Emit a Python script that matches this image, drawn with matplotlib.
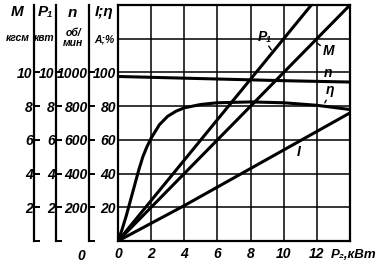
import numpy as np
import matplotlib
matplotlib.use("Agg")
from matplotlib import pyplot as plt

plt.rcParams['font.family'] = ['Liberation Sans', 'DejaVu Sans']
plt.rcParams['font.style'] = 'italic'
plt.rcParams['font.weight'] = 'bold'

# P2, кВт
p2_lin = [0, 2, 4, 6, 8, 10, 12, 14]
p1_vals = [0, 2.4, 4.8, 7.2, 9.6, 12.0, 14.4, 16.8]      # квт
m_vals = [0, 2.0, 4.0, 6.0, 8.0, 10.0, 12.0, 14.0]       # кгсм
n_vals = [976, 971, 966, 961, 956, 951, 947, 943]        # об/мин
i_vals = [0, 10.5, 21, 32, 43, 54, 65, 76]               # A
p2_eta = [0, 0.25, 0.5, 0.75, 1, 1.25, 1.5, 1.75, 2, 2.5, 3, 3.5, 4, 5, 6, 8, 10, 12, 14]
eta_vals = [0, 7, 15, 24, 33, 42, 50, 56, 61, 69, 74, 77, 79, 81, 82, 82.5, 82, 80.5, 78]  # %

W, H = 380, 267
fig = plt.figure(figsize=(W / 100, H / 100), dpi=100)
L, R, B, T = 118, 350, 241, 5
ax = fig.add_axes([L / W, (H - B) / H, (R - L) / W, (B - T) / H])

def fx(x):
    return x / W

def fy(y):
    return (H - y) / H

lw = 2.2
ax.plot(p2_lin, np.array(p1_vals) * 10, color='k', lw=lw)
ax.plot(p2_lin, np.array(m_vals) * 10, color='k', lw=lw)
ax.plot(p2_lin, np.array(n_vals) / 10, color='k', lw=lw)
ax.plot(p2_lin, i_vals, color='k', lw=lw)
ax.plot(p2_eta, eta_vals, color='k', lw=lw)

ax.set_xlim(0, 14)
ax.set_ylim(0, 140)
ax.set_xticks([0, 2, 4, 6, 8, 10, 12])
ax.set_yticks([0, 20, 40, 60, 80, 100, 120])
ax.set_yticklabels(['', '20', '40', '60', '80', '100', ''])
ax.grid(True, color='k', lw=1.1)
ax.tick_params(length=0, labelsize=10, pad=1.5)
ax.tick_params(axis='x', pad=4)
for s in ax.spines.values():
    s.set_linewidth(1.6)

# extra left scales
scales = [
    (84, ['', '2', '4', '6', '8', '10']),
    (62, ['', '2', '4', '6', '8', '10']),
    (29, ['', '200', '400', '600', '800', '1000']),
]
for off, labs in scales:
    tw = ax.twinx()
    tw.set_ylim(0, 140)
    tw.spines['left'].set_visible(True)
    tw.spines['left'].set_position(('outward', off * 0.72))
    tw.spines['left'].set_linewidth(1.6)
    for k in ['right', 'top', 'bottom']:
        tw.spines[k].set_visible(False)
    tw.yaxis.tick_left()
    tw.set_yticks([0, 20, 40, 60, 80, 100])
    tw.set_yticklabels(labs)
    tw.tick_params(axis='y', direction='in', length=4, width=1.4, labelsize=10, pad=1)
    tw.set_ylim(0, 140)

# headers
fs = 11
fig.text(fx(17), fy(12), 'M', ha='center', va='center', fontsize=fs)
fig.text(fx(18), fy(38), 'кгсм', ha='center', va='center', fontsize=7.5)
fig.text(fx(45), fy(12), 'P₁', ha='center', va='center', fontsize=fs)
fig.text(fx(44), fy(38), 'квт', ha='center', va='center', fontsize=7.5)
fig.text(fx(72), fy(13), 'n', ha='center', va='center', fontsize=fs)
fig.text(fx(73), fy(38), 'об/\nмин', ha='center', va='center', fontsize=7.5, linespacing=0.9)
fig.text(fx(104), fy(12), 'I;η', ha='center', va='center', fontsize=fs)
fig.text(fx(104), fy(40), 'A;%', ha='center', va='center', fontsize=7.5)
fig.text(fx(81), fy(256), '0', ha='center', va='center', fontsize=10)
fig.text(fx(354), fy(255), 'P₂,кВт', ha='center', va='center', fontsize=9.5)

# curve labels
ax.text(8.85, 121, 'P₁', ha='center', va='center', fontsize=10)
ax.annotate('', xy=(9.35, 112), xytext=(9.0, 117), arrowprops=dict(arrowstyle='-', lw=1))
ax.text(12.7, 113, 'M', ha='center', va='center', fontsize=10)
ax.annotate('', xy=(11.85, 118.5), xytext=(12.35, 115), arrowprops=dict(arrowstyle='-', lw=1))
ax.text(12.7, 99.5, 'n', ha='center', va='center', fontsize=10)
ax.text(12.8, 89.5, 'η', ha='center', va='center', fontsize=10)
ax.annotate('', xy=(12.4, 80.5), xytext=(12.65, 85), arrowprops=dict(arrowstyle='-', lw=1))
ax.text(10.9, 53, 'I', ha='center', va='center', fontsize=10)

fig.savefig('out.png', dpi=100)
